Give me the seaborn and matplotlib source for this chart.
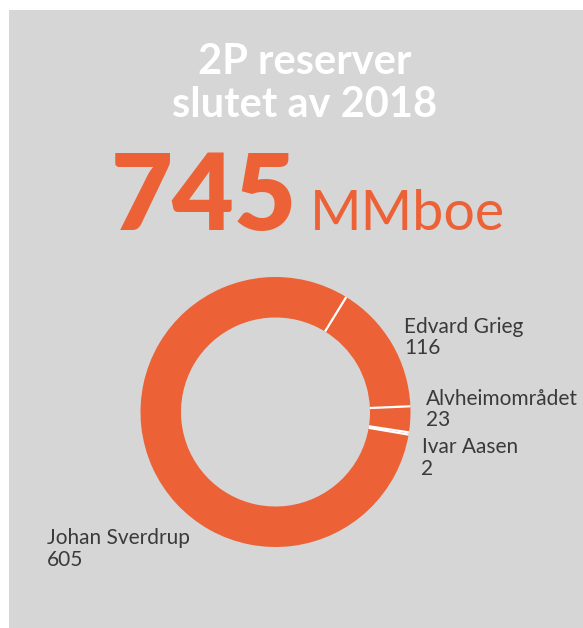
import matplotlib
matplotlib.use("Agg")
import matplotlib.pyplot as plt
from matplotlib.patches import Rectangle
import numpy as np
import seaborn as sns

# ---- data ----
fields = ["Edvard Grieg", "Alvheimområdet", "Ivar Aasen", "Johan Sverdrup"]
reserves = [116, 23, 2, 605]
title_lines = ["2P reserver", "slutet av 2018"]
total_value = "745"
total_unit = "MMboe"

sns.set_style("white")
plt.rcParams["font.family"] = ["Lato", "DejaVu Sans"]

W, H = 583, 628
ORANGE = "#EC6136"
GRAY = "#D6D6D6"
TXT = "#3A3A3A"

fig = plt.figure(figsize=(W / 100, H / 100), dpi=100, facecolor="white")
fig.patches.append(Rectangle((9 / W, 0), 1, (H - 10) / H, transform=fig.transFigure,
                             facecolor=GRAY, edgecolor="none", zorder=-10))

def fx(px):
    return px / W

def fy(py):
    return 1 - py / H

# titles
fig.text(fx(305), fy(74), title_lines[0], color="white", fontsize=30, fontweight="bold",
         ha="center", va="baseline")
fig.text(fx(305), fy(117), title_lines[1], color="white", fontsize=30, fontweight="bold",
         ha="center", va="baseline")
fig.text(fx(111), fy(230.5), total_value, color=ORANGE, fontsize=77, fontweight="heavy",
         ha="left", va="baseline")
fig.text(fx(310), fy(230.5), total_unit, color=ORANGE, fontsize=40, fontweight="normal",
         ha="left", va="baseline")

# donut
cx, cy, R = 275.5, 412, 135
ax = fig.add_axes([fx(cx - R), (H - cy - R) / H, 2 * R / W, 2 * R / H], zorder=1)
ax.set_facecolor("none")
ring = 0.30
wedges, _ = ax.pie(reserves, startangle=90 - 31.6, counterclock=False,
                   colors=[ORANGE] * len(reserves),
                   wedgeprops=dict(width=ring, edgecolor="none", linewidth=0))
for w in wedges:
    t = np.deg2rad(w.theta1)
    ax.plot([(1 - ring) * np.cos(t), np.cos(t)], [(1 - ring) * np.sin(t), np.sin(t)],
            color="white", lw=1.6, solid_capstyle="butt")
ax.set_xlim(-1, 1)
ax.set_ylim(-1, 1)
ax.set_aspect("equal")
ax.axis("off")

# labels: (x, baseline of first line)
label_pos = {
    "Edvard Grieg": (404, 332.7),
    "Alvheimområdet": (426, 405),
    "Ivar Aasen": (421.5, 453.3),
    "Johan Sverdrup": (47, 544.3),
}
for name, val in zip(fields, reserves):
    x, yb = label_pos[name]
    fig.text(fx(x), fy(yb), name, color=TXT, fontsize=15, ha="left", va="baseline")
    fig.text(fx(x), fy(yb + 21.3), str(val), color=TXT, fontsize=15, ha="left", va="baseline")

fig.savefig("out.png", dpi=100, facecolor="white")
